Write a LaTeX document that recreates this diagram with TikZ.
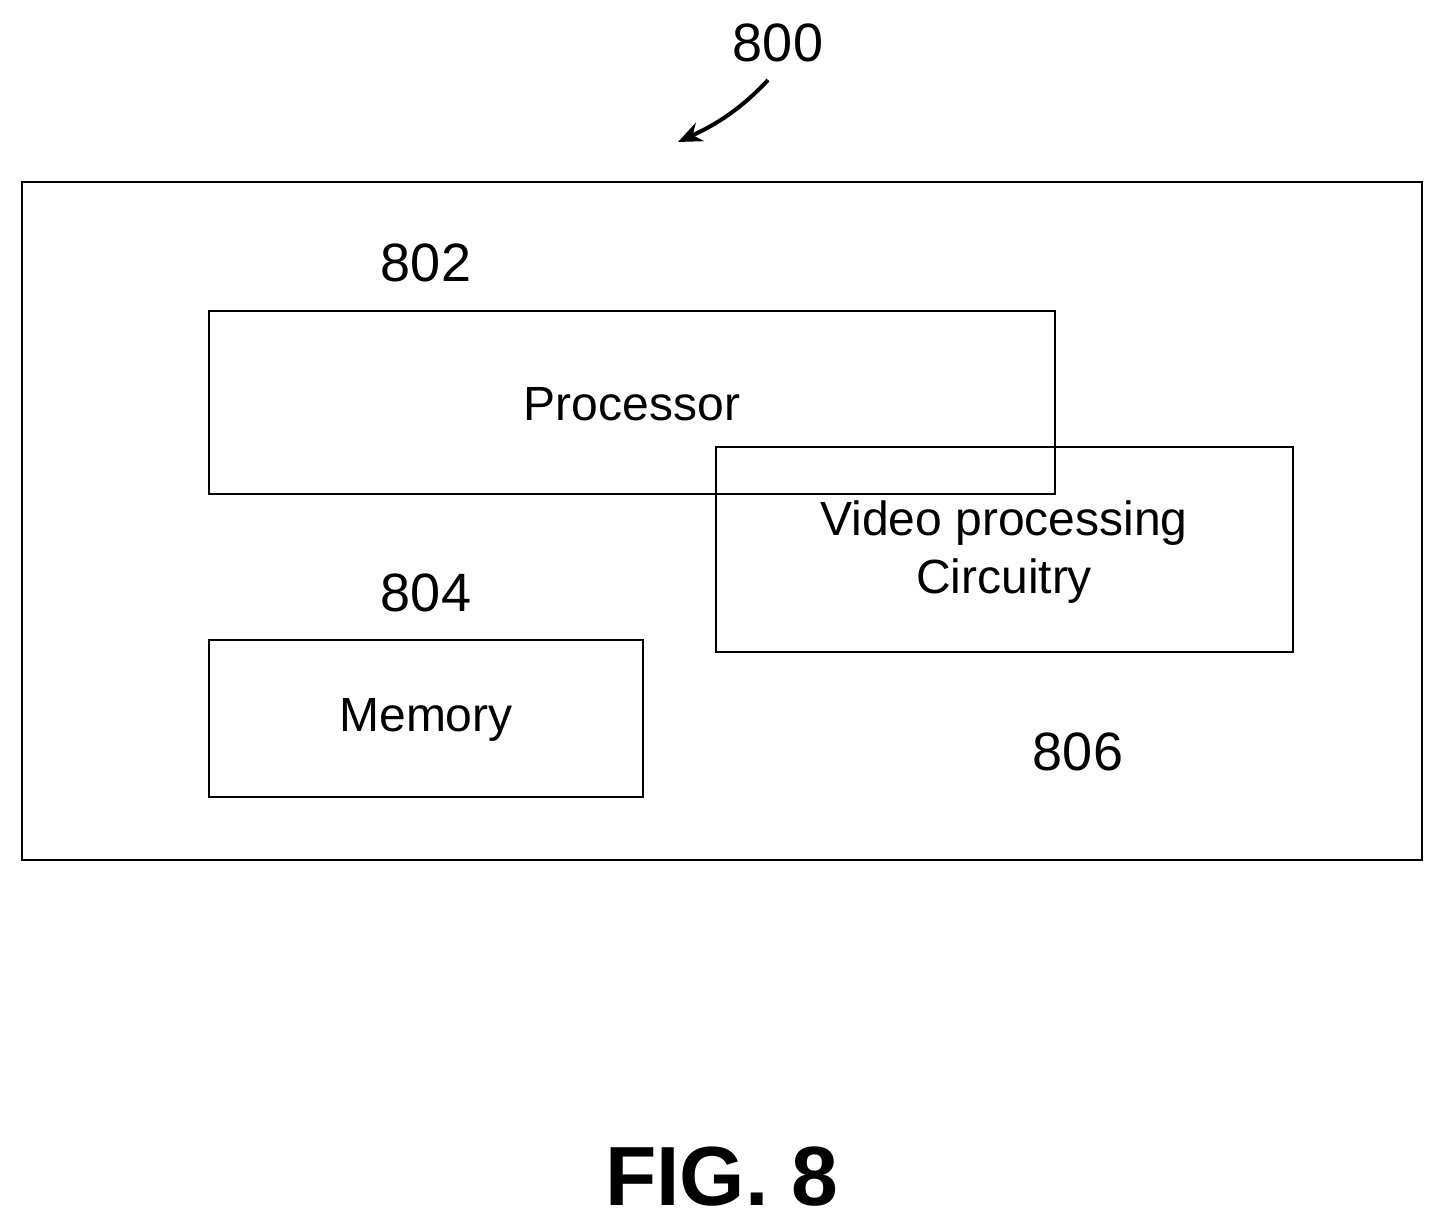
\documentclass[tikz,border=0pt]{standalone}
\usepackage{fontspec}
\setmainfont{Liberation Sans}
\usetikzlibrary{arrows.meta}
\begin{document}
\begin{tikzpicture}[x=0.5pt,y=-0.5pt,
  box/.style={draw,line width=1.4pt},
  lbl/.style={font=\fontsize{27}{30}\selectfont,inner sep=0},
  txt/.style={font=\fontsize{24}{29}\selectfont,inner sep=0,align=center}]
\useasboundingbox (0,0) rectangle (1444,1226);
\draw[box] (22,182) rectangle (1422,860);
\draw[box] (209,311) rectangle (1055,494);
\draw[box] (716,447) rectangle (1293,652);
\draw[box] (209,640) rectangle (643,797);
\node[txt] (proc) at (632,404) {Processor};
\node[txt] (vid) at (1004,552) {Video processing\\Circuitry};
\node[txt] (mem) at (426,720) {Memory};
\node[lbl] (l800) at (778,43) {800};
\node[lbl] (l802) at (426,263) {802};
\node[lbl] (l804) at (426,593) {804};
\node[lbl] (l806) at (1078,752) {806};
\node[inner sep=0,font=\fontsize{42}{46}\selectfont\bfseries] (fig) at (722,1177) {FIG. 8};
\coordinate (as) at (768,80);
\coordinate (ae) at (678,142);
\draw[line width=2pt,-{Stealth[length=12pt,width=10pt]}] (as) .. controls (740,110) and (715,125) .. (ae);
\end{tikzpicture}
\end{document}
